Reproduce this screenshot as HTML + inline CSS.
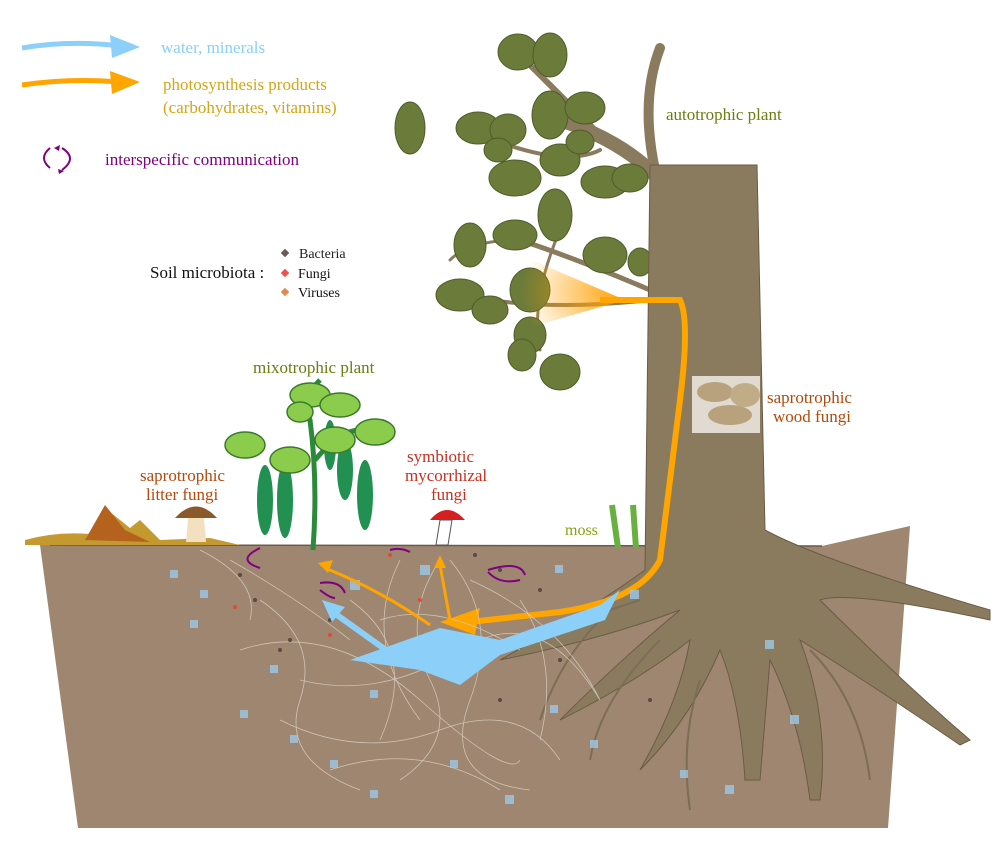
<!DOCTYPE html>
<html><head><meta charset="utf-8"><style>
html,body{margin:0;padding:0;background:#fff;}
svg{display:block}
text{font-family:"Liberation Serif",serif;}
</style></head><body>
<svg width="1001" height="865" viewBox="0 0 1001 865" xmlns="http://www.w3.org/2000/svg">
<defs>
<radialGradient id="og" cx="1" cy="0.5" r="1"><stop offset="0" stop-color="#ffa000"/><stop offset="1" stop-color="#ffa000" stop-opacity="0"/></radialGradient>
</defs>
<!-- legend -->
<path d="M22,48 Q70,40 120,46" stroke="#8ccff8" stroke-width="5" fill="none"/>
<path d="M110,35 L140,47 L112,58 Z" fill="#8ccff8"/>
<text x="161" y="53" font-size="17" fill="#8ccff8">water, minerals</text>
<path d="M22,85 Q70,78 120,82" stroke="#ffa500" stroke-width="5" fill="none"/>
<path d="M110,71 L140,82 L112,94 Z" fill="#ffa500"/>
<text x="163" y="90" font-size="17" fill="#d4a516">photosynthesis products</text>
<text x="163" y="113" font-size="17" fill="#d4a516">(carbohydrates, vitamins)</text>
<path d="M50,148 Q38,158 50,168" stroke="#800080" stroke-width="2" fill="none"/>
<path d="M62,148 Q78,158 62,170" stroke="#800080" stroke-width="2" fill="none"/>
<path d="M54,148 l6,-3 l-1,6z M58,169 l6,2 l-5,3z" fill="#800080"/>
<text x="105" y="165" font-size="17" fill="#800080">interspecific communication</text>
<text x="150" y="278" font-size="17" fill="#111">Soil microbiota :</text>
<rect x="282" y="250" width="6" height="6" fill="#6a5a5a" transform="rotate(45 285 253)"/>
<text x="299" y="258" font-size="14" fill="#222">Bacteria</text>
<rect x="282" y="270" width="6" height="6" fill="#f05050" transform="rotate(45 285 273)"/>
<text x="298" y="278" font-size="14" fill="#111">Fungi</text>
<rect x="282" y="289" width="6" height="6" fill="#e08a50" transform="rotate(45 285 292)"/>
<text x="298" y="297" font-size="14" fill="#111">Viruses</text>
<text x="253" y="373" font-size="17" fill="#6b7d10">mixotrophic plant</text>
<text x="666" y="120" font-size="17" fill="#6b7d10">autotrophic plant</text>
<!-- soil -->
<polygon points="40,545 822,546 910,526 888,828 78,828" fill="#9e8670"/>
<line x1="50" y1="545" x2="822" y2="546" stroke="#6b5b4b" stroke-width="1.5"/>
<!-- litter -->
<path d="M25,540 Q60,530 100,535 L110,512 L130,528 L140,520 L160,540 L210,538 L240,545 L25,545 Z" fill="#c49a30"/>
<path d="M85,540 L105,505 L125,530 L150,542 Z" fill="#b5621e"/>
<path d="M175,518 Q196,495 217,518 Z" fill="#8b5a2b"/>
<path d="M188,518 L204,518 L206,542 L186,542 Z" fill="#f2e0c0"/>
<!-- tree branches -->
<g stroke="#8b7b5e" fill="none" stroke-linecap="round">
<path d="M655,175 Q620,140 560,120" stroke-width="14"/>
<path d="M655,170 Q640,100 660,48" stroke-width="10"/>
<path d="M600,135 Q560,95 525,60" stroke-width="6"/>
<path d="M650,290 Q580,260 520,240" stroke-width="5"/>
<path d="M650,300 Q560,310 490,300" stroke-width="4"/>
<path d="M600,150 Q560,170 470,130" stroke-width="4"/>
<path d="M560,230 Q530,300 540,350" stroke-width="3"/>
<path d="M520,240 Q470,240 450,260" stroke-width="3"/>
</g>
<!-- leaves -->
<g fill="#6b7b3a" stroke="#4f5c2a" stroke-width="1">
<ellipse cx="410" cy="128" rx="15" ry="26"/>
<ellipse cx="518" cy="52" rx="20" ry="18"/><ellipse cx="550" cy="55" rx="17" ry="22"/>
<ellipse cx="478" cy="128" rx="22" ry="16"/><ellipse cx="508" cy="130" rx="18" ry="16"/>
<ellipse cx="550" cy="115" rx="18" ry="24"/><ellipse cx="585" cy="108" rx="20" ry="16"/>
<ellipse cx="515" cy="178" rx="26" ry="18"/><ellipse cx="560" cy="160" rx="20" ry="16"/>
<ellipse cx="605" cy="182" rx="24" ry="16"/><ellipse cx="630" cy="178" rx="18" ry="14"/>
<ellipse cx="555" cy="215" rx="17" ry="26"/><ellipse cx="515" cy="235" rx="22" ry="15"/>
<ellipse cx="470" cy="245" rx="16" ry="22"/><ellipse cx="605" cy="255" rx="22" ry="18"/>
<ellipse cx="460" cy="295" rx="24" ry="16"/><ellipse cx="490" cy="310" rx="18" ry="14"/>
<ellipse cx="530" cy="290" rx="20" ry="22"/><ellipse cx="530" cy="335" rx="16" ry="18"/>
<ellipse cx="560" cy="372" rx="20" ry="18"/><ellipse cx="522" cy="355" rx="14" ry="16"/>
<ellipse cx="640" cy="262" rx="12" ry="14"/><ellipse cx="580" cy="142" rx="14" ry="12"/>
<ellipse cx="498" cy="150" rx="14" ry="12"/>
</g>
<polygon points="520,255 625,300 520,330" fill="url(#og)"/>
<!-- trunk -->
<path d="M650,165 L757,165 L765,530 Q820,560 990,610 L990,620 Q850,590 820,600 Q900,680 970,740 L960,745 Q880,690 800,640 Q830,720 820,800 L810,800 Q800,720 770,660 L760,780 L745,780 Q740,700 720,650 Q690,720 640,770 Q680,700 690,640 Q640,680 560,720 Q620,660 680,610 Q600,640 500,660 Q590,610 645,570 Z" fill="#8b7b5e" stroke="#6b5b45" stroke-width="1"/>
<g stroke="#7d6d55" fill="none" stroke-width="2">
<path d="M640,600 Q580,620 520,640"/><path d="M660,640 Q600,700 590,760"/>
<path d="M700,680 Q680,740 690,810"/><path d="M810,650 Q860,700 870,780"/>
<path d="M600,620 Q560,660 540,720"/>
</g>
<!-- wood fungi -->
<rect x="692" y="376" width="68" height="57" fill="#e0dad0"/>
<ellipse cx="715" cy="392" rx="18" ry="10" fill="#b8a27e"/><ellipse cx="745" cy="395" rx="15" ry="12" fill="#c1ac88"/>
<ellipse cx="730" cy="415" rx="22" ry="10" fill="#b8a27e"/>
<text x="767" y="403" font-size="17" fill="#b5480a">saprotrophic</text>
<text x="773" y="422" font-size="17" fill="#b5480a">wood fungi</text>
<!-- orange tree pathway -->
<path d="M600,300 Q660,300 680,300 Q690,320 680,400 Q665,520 660,560 Q640,600 560,612 L470,622" stroke="#ffa500" stroke-width="6" fill="none"/>
<path d="M440,622 L480,608 L475,635 Z" fill="#ffa500"/>
<!-- mixotrophic plant -->
<g stroke="#2a8a3a" stroke-width="5" fill="none">
<path d="M313,550 Q318,480 310,420 Q300,400 320,380"/><path d="M315,460 Q340,430 360,430"/>
</g>
<g fill="#229050">
<ellipse cx="265" cy="500" rx="8" ry="35"/><ellipse cx="285" cy="500" rx="8" ry="38"/>
<ellipse cx="345" cy="470" rx="8" ry="30"/><ellipse cx="365" cy="495" rx="8" ry="35"/>
<ellipse cx="330" cy="445" rx="6" ry="25"/>
</g>
<g fill="#8ccc4c" stroke="#3a7a2a" stroke-width="1.5">
<ellipse cx="245" cy="445" rx="20" ry="13"/><ellipse cx="290" cy="460" rx="20" ry="13"/>
<ellipse cx="310" cy="395" rx="20" ry="12"/><ellipse cx="340" cy="405" rx="20" ry="12"/>
<ellipse cx="335" cy="440" rx="20" ry="13"/><ellipse cx="375" cy="432" rx="20" ry="13"/>
<ellipse cx="300" cy="412" rx="13" ry="10"/>
</g>
<!-- amanita -->
<path d="M430,520 Q447,500 465,520 Z" fill="#d42020"/>
<path d="M440,520 L452,520 L448,545 L436,545 Z" fill="#fff" stroke="#555"/>
<text x="407" y="462" font-size="17" fill="#c83020">symbiotic</text>
<text x="405" y="481" font-size="17" fill="#c83020">mycorrhizal</text>
<text x="431" y="500" font-size="17" fill="#c83020">fungi</text>
<text x="140" y="481" font-size="17" fill="#b5480a">saprotrophic</text>
<text x="146" y="500" font-size="17" fill="#b5480a">litter fungi</text>
<text x="565" y="535" font-size="16" fill="#8aa010">moss</text>
<g stroke="#6ab040" stroke-width="6"><line x1="612" y1="505" x2="618" y2="548"/><line x1="633" y1="505" x2="636" y2="548"/></g>
<!-- hyphae -->
<g stroke="#d8cfc0" stroke-width="0.8" fill="none" opacity="0.85">
<path d="M260,600 Q320,640 300,700 T360,790"/><path d="M240,650 Q330,620 420,700 T520,760"/>
<path d="M440,560 Q400,620 430,680 T400,780"/><path d="M450,560 Q500,620 470,700 T530,790"/>
<path d="M300,680 Q380,700 460,650 T600,700"/><path d="M280,720 Q360,760 440,730 T560,760"/>
<path d="M350,600 Q420,650 380,740"/><path d="M470,580 Q560,620 600,700"/>
<path d="M330,770 Q420,740 500,790"/><path d="M520,600 Q560,660 540,740"/>
<path d="M200,550 Q260,580 250,620"/><path d="M380,620 Q440,600 520,650"/>
<path d="M230,560 Q300,600 350,640"/><path d="M400,560 Q360,640 420,720"/>
</g>
<!-- particles -->
<g fill="#9cc8e8" opacity="0.8">
<rect x="170" y="570" width="8" height="8"/><rect x="200" y="590" width="8" height="8"/><rect x="350" y="580" width="10" height="10"/>
<rect x="270" y="665" width="8" height="8"/><rect x="290" y="735" width="8" height="8"/><rect x="370" y="690" width="8" height="8"/>
<rect x="330" y="760" width="8" height="8"/><rect x="370" y="790" width="8" height="8"/><rect x="450" y="760" width="8" height="8"/>
<rect x="505" y="795" width="9" height="9"/><rect x="550" y="705" width="8" height="8"/><rect x="590" y="740" width="8" height="8"/>
<rect x="725" y="785" width="9" height="9"/><rect x="680" y="770" width="8" height="8"/><rect x="790" y="715" width="9" height="9"/>
<rect x="765" y="640" width="9" height="9"/><rect x="555" y="565" width="8" height="8"/><rect x="630" y="590" width="9" height="9"/>
<rect x="420" y="565" width="10" height="10"/><rect x="240" y="710" width="8" height="8"/><rect x="190" y="620" width="8" height="8"/>
</g>
<g fill="#5a4a42">
<circle cx="240" cy="575" r="2"/><circle cx="255" cy="600" r="2"/><circle cx="290" cy="640" r="2"/><circle cx="330" cy="620" r="2"/>
<circle cx="475" cy="555" r="2"/><circle cx="500" cy="570" r="2"/><circle cx="540" cy="590" r="2"/><circle cx="280" cy="650" r="2"/>
<circle cx="420" cy="640" r="2"/><circle cx="500" cy="700" r="2"/><circle cx="560" cy="660" r="2"/><circle cx="650" cy="700" r="2"/>
</g>
<g fill="#e04a3a"><circle cx="235" cy="607" r="2"/><circle cx="390" cy="555" r="2"/><circle cx="420" cy="600" r="2"/><circle cx="330" cy="635" r="2"/></g>
<!-- blue arrows -->
<polygon points="350,660 440,628 500,640 600,605 620,590 605,620 500,655 460,685 420,670" fill="#8ccff8"/>
<path d="M400,660 L330,610" stroke="#8ccff8" stroke-width="6"/>
<path d="M322,600 L345,607 L332,622 Z" fill="#8ccff8"/>
<!-- orange soil arrows -->
<g stroke="#ffa500" stroke-width="3" fill="none">
<path d="M430,625 Q380,590 325,568"/><path d="M450,620 L440,565"/>
</g>
<path d="M318,563 L333,560 L328,573 Z M440,555 L446,568 L434,568 Z" fill="#ffa500"/>
<!-- purple arrows -->
<g stroke="#800080" stroke-width="2" fill="none">
<path d="M260,548 Q235,560 260,568"/><path d="M488,570 Q520,560 525,575"/><path d="M488,572 Q500,585 520,580"/>
<path d="M320,583 Q340,580 345,593"/><path d="M320,590 Q330,598 335,598"/><path d="M390,550 Q400,547 410,552"/>
</g>
</svg>
</body></html>
